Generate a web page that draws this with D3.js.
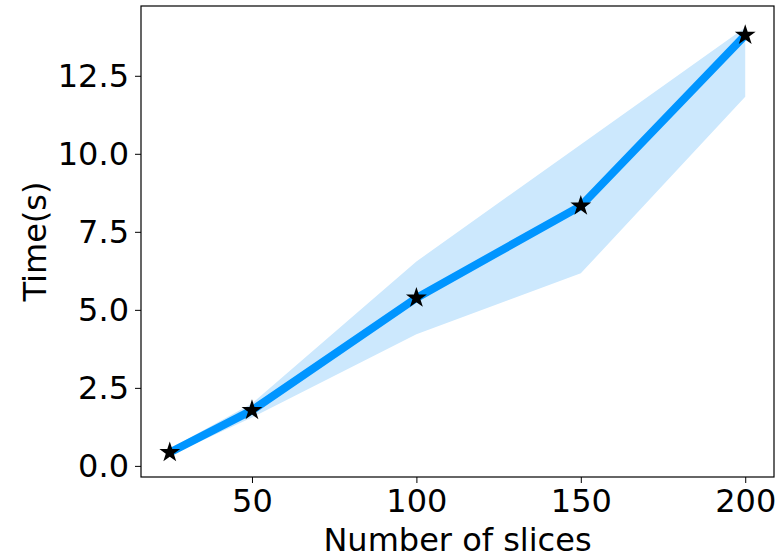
<!DOCTYPE html>
<html>
<head>
<meta charset="utf-8">
<script src="https://cdn.jsdelivr.net/npm/d3@7"></script>
<style>
  html, body { margin: 0; padding: 0; background: #fff; }
  text { font-family: "DejaVu Sans", sans-serif; fill: #000; }
</style>
</head>
<body>
<svg id="chart" width="776" height="558"></svg>
<script>
const slices = [25, 50, 100, 150, 200];
const meanTime = [0.43, 1.78, 5.38, 8.33, 13.80];
const upperTime = [0.55, 2.0, 6.55, 10.3, 14.05];
const lowerTime = [0.33, 1.55, 4.22, 6.17, 11.83];
const xTicks = [50, 100, 150, 200];
const yTicks = [0, 2.5, 5, 7.5, 10, 12.5];
const xLabel = "Number of slices";
const yLabel = "Time(s)";

const svg = d3.select("#chart");
const m = { left: 141, right: 774, top: 6, bottom: 477 };

function padDomain(lo, hi) { const p = (hi - lo) * 0.05; return [lo - p, hi + p]; }
const x = d3.scaleLinear().domain(padDomain(d3.min(slices), d3.max(slices))).range([m.left, m.right]);
const y = d3.scaleLinear().domain(padDomain(d3.min(lowerTime), d3.max(upperTime))).range([m.bottom, m.top]);

const rows = slices.map((s, i) => ({ s, mean: meanTime[i], lo: lowerTime[i], hi: upperTime[i] }));

svg.append("path").datum(rows)
  .attr("fill", "#cce8fd")
  .attr("d", d3.area().x(d => x(d.s)).y0(d => y(d.lo)).y1(d => y(d.hi)));

svg.append("path").datum(rows)
  .attr("fill", "none").attr("stroke", "#0095ff").attr("stroke-width", 8)
  .attr("stroke-linejoin", "round")
  .attr("d", d3.line().x(d => x(d.s)).y(d => y(d.mean)));

svg.append("g").selectAll("path").data(rows).join("path")
  .attr("transform", d => `translate(${x(d.s)},${y(d.mean)})`)
  .attr("d", d3.symbol().type(d3.symbolStar).size(135))
  .attr("fill", "#000");

const xAxis = svg.append("g").attr("transform", `translate(0,${m.bottom})`)
  .call(d3.axisBottom(x).tickValues(xTicks).tickFormat(d3.format("d")).tickSize(6).tickPadding(6));
const yAxis = svg.append("g").attr("transform", `translate(${m.left},0)`)
  .call(d3.axisLeft(y).tickValues(yTicks).tickFormat(d3.format(".1f")).tickSize(6).tickPadding(6));
[xAxis, yAxis].forEach(a => {
  a.select(".domain").remove();
  a.selectAll("text").style("font-family", "'DejaVu Sans', sans-serif").style("font-size", "32px").attr("fill", "#000");
  a.selectAll("line").attr("stroke", "#000").attr("stroke-width", 1);
});

svg.append("rect").attr("x", m.left).attr("y", m.top)
  .attr("width", m.right - m.left).attr("height", m.bottom - m.top)
  .attr("fill", "none").attr("stroke", "#000").attr("stroke-width", 1.2);

svg.append("text").attr("x", (m.left + m.right) / 2).attr("y", 551)
  .attr("text-anchor", "middle").style("font-size", "32px").text(xLabel);
svg.append("text").attr("transform", `translate(46,${(m.top + m.bottom) / 2}) rotate(-90)`)
  .attr("text-anchor", "middle").style("font-size", "32px").text(yLabel);
</script>
</body>
</html>
